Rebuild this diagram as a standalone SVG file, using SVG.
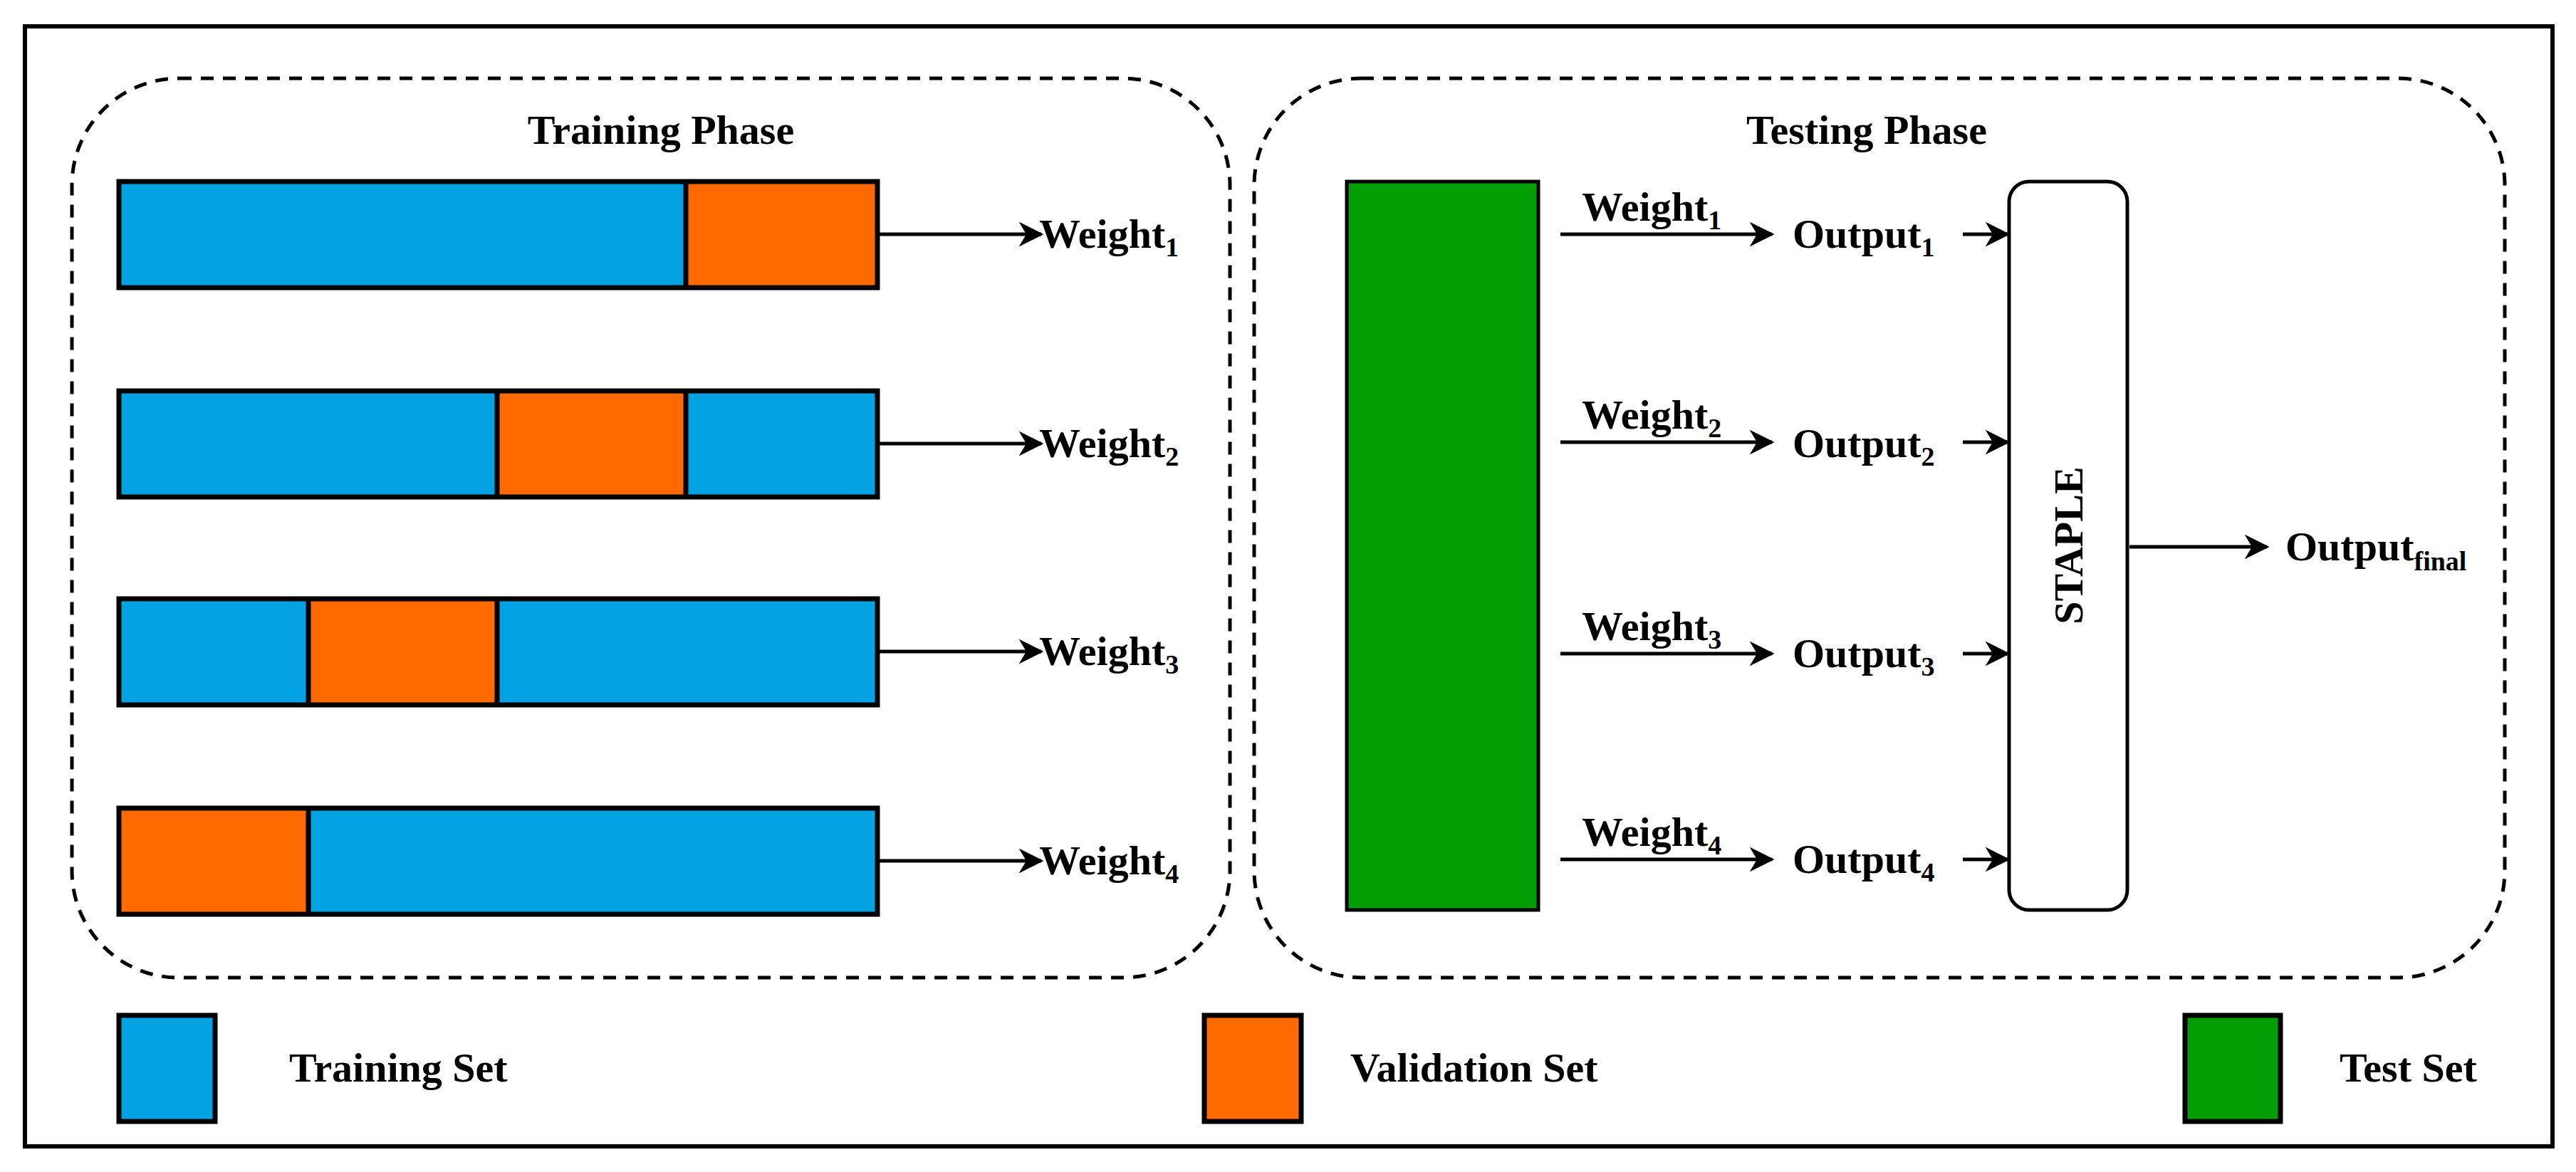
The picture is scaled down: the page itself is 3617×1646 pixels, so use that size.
<svg xmlns="http://www.w3.org/2000/svg" width="3617" height="1646" viewBox="0 0 3617 1646">
<style>
text{font-family:"Liberation Serif","Times New Roman",serif;font-weight:bold;font-size:58px;fill:#000}
.sub{font-size:38px}
.bar{stroke:#000;stroke-width:7}
.tr{fill:#03A2E3}.va{fill:#FF6A00}.te{fill:#039E03}
.dash{fill:none;stroke:#000;stroke-width:5;stroke-dasharray:18 13}
.ln{stroke:#000;stroke-width:5;fill:none}
</style>
<defs>
<marker id="ah" viewBox="0 0 10 10" refX="9" refY="5" markerWidth="6" markerHeight="6" markerUnits="userSpaceOnUse" orient="auto">
<path d="M0,0 L10,5 L0,10 L3,5 z" fill="#000"/>
</marker>
<marker id="a" viewBox="0 0 10 10" refX="9" refY="5" markerWidth="7" markerHeight="7" orient="auto"><path d="M0,0 L10,5 L0,10 L3,5 z" fill="#000"/></marker>
</defs>
<rect x="0" y="0" width="3617" height="1646" fill="#fff"/>
<rect x="35" y="37" width="3549" height="1573" fill="none" stroke="#000" stroke-width="6"/>

<g id="training-phase">
<rect class="dash" x="101" y="110" width="1626" height="1263" rx="150"/>
<text x="928" y="202" text-anchor="middle">Training Phase</text>
</g>
<g id="testing-phase">
<rect class="dash" x="1761" y="110" width="1756" height="1263" rx="150"/>
<text x="2621" y="202" text-anchor="middle">Testing Phase</text>
</g>

<g id="fold1">
<rect class="tr" x="167" y="255" width="796" height="149"/>
<rect class="va" x="963" y="255" width="269" height="149"/>
<rect class="bar" x="167" y="255" width="1065" height="149" fill="none"/>
<line class="bar" x1="963" y1="255" x2="963" y2="404"/>
</g>
<g id="fold2">
<rect class="tr" x="167" y="549" width="531" height="149"/>
<rect class="va" x="698" y="549" width="265" height="149"/>
<rect class="tr" x="963" y="549" width="269" height="149"/>
<rect class="bar" x="167" y="549" width="1065" height="149" fill="none"/>
<line class="bar" x1="698" y1="549" x2="698" y2="698"/>
<line class="bar" x1="963" y1="549" x2="963" y2="698"/>
</g>
<g id="fold3">
<rect class="tr" x="167" y="841" width="266" height="149"/>
<rect class="va" x="433" y="841" width="265" height="149"/>
<rect class="tr" x="698" y="841" width="534" height="149"/>
<rect class="bar" x="167" y="841" width="1065" height="149" fill="none"/>
<line class="bar" x1="433" y1="841" x2="433" y2="990"/>
<line class="bar" x1="698" y1="841" x2="698" y2="990"/>
</g>
<g id="fold4">
<rect class="va" x="167" y="1135" width="266" height="149"/>
<rect class="tr" x="433" y="1135" width="799" height="149"/>
<rect class="bar" x="167" y="1135" width="1065" height="149" fill="none"/>
<line class="bar" x1="433" y1="1135" x2="433" y2="1284"/>
</g>

<g id="weights-train">
<text x="1459" y="348">Weight<tspan class="sub" dy="12">1</tspan></text>
<text x="1459" y="642">Weight<tspan class="sub" dy="12">2</tspan></text>
<text x="1459" y="934">Weight<tspan class="sub" dy="12">3</tspan></text>
<text x="1459" y="1228">Weight<tspan class="sub" dy="12">4</tspan></text>
</g>

<g id="test-set">
<rect class="te" x="1891" y="255" width="269" height="1023" stroke="#000" stroke-width="5"/>
</g>

<g id="outputs">
<text x="2221" y="310">Weight<tspan class="sub" dy="12">1</tspan></text>
<text x="2221" y="602">Weight<tspan class="sub" dy="12">2</tspan></text>
<text x="2221" y="899">Weight<tspan class="sub" dy="12">3</tspan></text>
<text x="2221" y="1188">Weight<tspan class="sub" dy="12">4</tspan></text>
<text x="2517" y="348">Output<tspan class="sub" dy="12">1</tspan></text>
<text x="2517" y="642">Output<tspan class="sub" dy="12">2</tspan></text>
<text x="2517" y="937">Output<tspan class="sub" dy="12">3</tspan></text>
<text x="2517" y="1226">Output<tspan class="sub" dy="12">4</tspan></text>
</g>

<g id="staple">
<rect x="2821" y="255" width="166" height="1023" rx="28" fill="#fff" stroke="#000" stroke-width="5"/>
<text x="0" y="0" text-anchor="middle" transform="translate(2924,766) rotate(-90)">STAPLE</text>
</g>

<g id="output-final">
<text x="3209" y="787">Output<tspan class="sub" dy="14">final</tspan></text>
</g>

<g id="connectors">
<line class="ln" x1="1232" y1="329" x2="1462" y2="329" marker-end="url(#a)"/>
<line class="ln" x1="1232" y1="623" x2="1462" y2="623" marker-end="url(#a)"/>
<line class="ln" x1="1232" y1="915" x2="1462" y2="915" marker-end="url(#a)"/>
<line class="ln" x1="1232" y1="1209" x2="1462" y2="1209" marker-end="url(#a)"/>
<line class="ln" x1="2191" y1="329" x2="2488" y2="329" marker-end="url(#a)"/>
<line class="ln" x1="2191" y1="621" x2="2488" y2="621" marker-end="url(#a)"/>
<line class="ln" x1="2191" y1="918" x2="2488" y2="918" marker-end="url(#a)"/>
<line class="ln" x1="2191" y1="1207" x2="2488" y2="1207" marker-end="url(#a)"/>
<line class="ln" x1="2756" y1="329" x2="2819" y2="329" marker-end="url(#a)"/>
<line class="ln" x1="2756" y1="621" x2="2819" y2="621" marker-end="url(#a)"/>
<line class="ln" x1="2756" y1="918" x2="2819" y2="918" marker-end="url(#a)"/>
<line class="ln" x1="2756" y1="1207" x2="2819" y2="1207" marker-end="url(#a)"/>
<line class="ln" x1="2990" y1="768" x2="3183" y2="768" marker-end="url(#a)"/>
</g>

<g id="legend">
<rect class="tr bar" x="167" y="1426" width="135" height="149"/>
<text x="406" y="1519">Training Set</text>
<rect class="va bar" x="1691" y="1426" width="136" height="149"/>
<text x="1896" y="1519">Validation Set</text>
<rect class="te bar" x="3068" y="1426" width="134" height="149"/>
<text x="3285" y="1519">Test Set</text>
</g>
</svg>
